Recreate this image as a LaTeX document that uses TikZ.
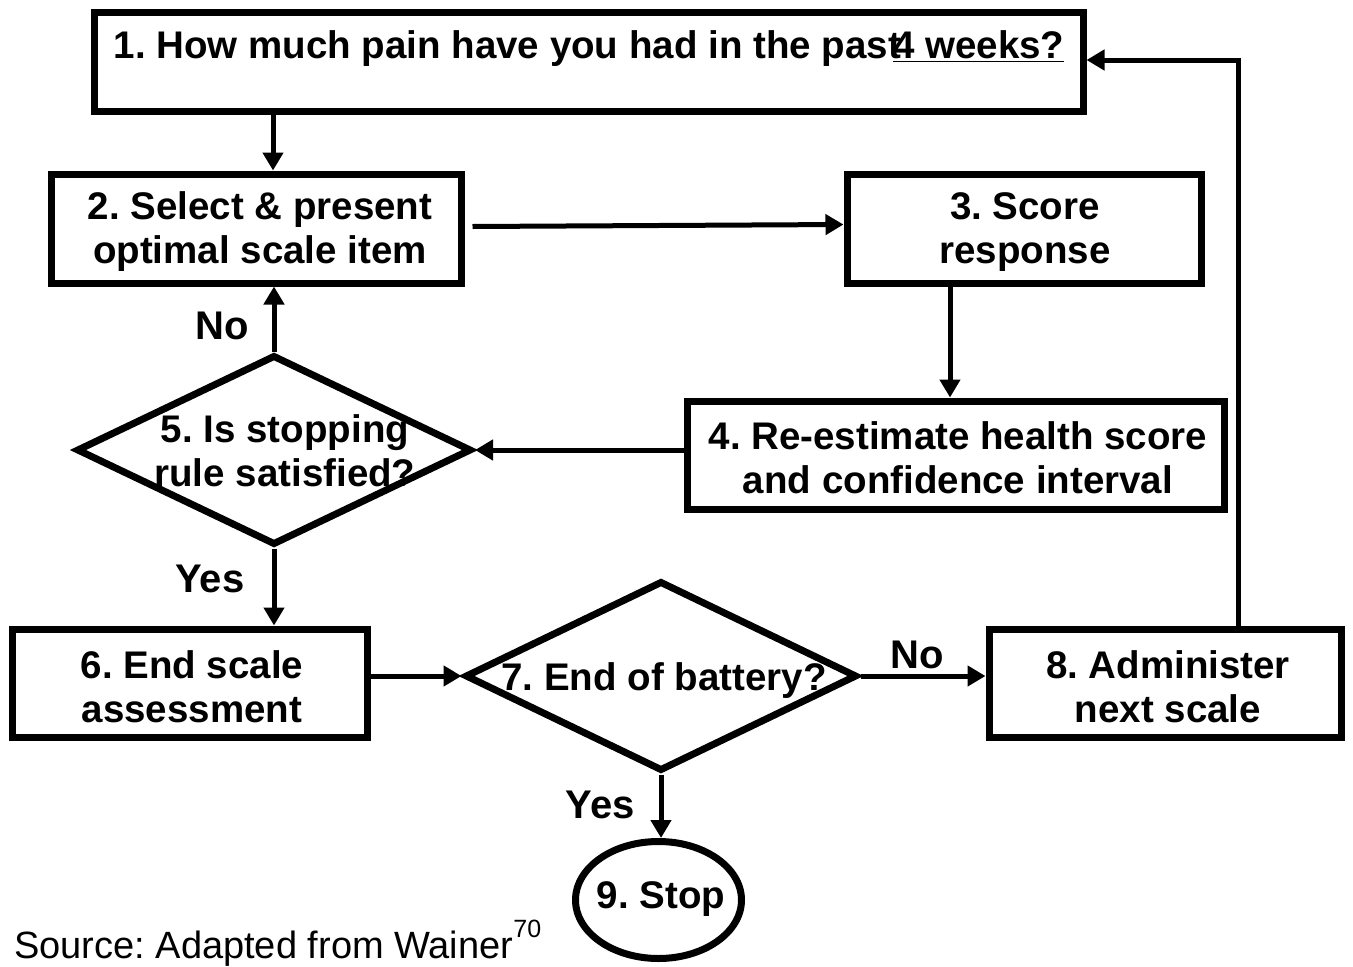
\documentclass[tikz,border=0pt]{standalone}
\usepackage{fontspec}
\setmainfont{Liberation Sans}
\usetikzlibrary{arrows.meta,shapes.geometric}
\frenchspacing
\begin{document}
\begin{tikzpicture}[x=1pt,y=-1pt,
  box/.style={draw,line width=7pt,rectangle,inner sep=0pt},
  dia/.style={draw,line width=7pt,diamond,inner sep=0pt,line join=miter},
  txt/.style={align=center,font=\fontsize{38.5}{44}\selectfont\bfseries,inner sep=0pt},
  lab/.style={font=\fontsize{40}{44}\selectfont\bfseries,inner sep=0pt},
  arr/.style={line width=5pt,-{Triangle[length=18pt,width=20pt]}}]
\useasboundingbox (0,0) rectangle (1353,967);
% shapes
\node[box,minimum width=989pt,minimum height=99pt] (b1) at (588.5,61.5) {};
\node[box,minimum width=410pt,minimum height=109pt] (b2) at (256,228.5) {};
\node[box,minimum width=354pt,minimum height=109pt] (b3) at (1024,228.5) {};
\node[box,minimum width=537pt,minimum height=108pt] (b4) at (955.5,455) {};
\node[dia,minimum width=395pt,minimum height=190pt] (d5) at (274,450) {};
\node[box,minimum width=355pt,minimum height=108pt] (b6) at (189.5,683) {};
\node[dia,minimum width=392pt,minimum height=190pt] (d7) at (661,676) {};
\node[box,minimum width=352pt,minimum height=108pt] (b8) at (1165,683) {};
\node[draw,line width=7pt,ellipse,minimum width=166pt,minimum height=117pt,inner sep=0pt] (e9) at (658.5,900) {};
% texts
\node[txt] (t1) at (589,49) {1. How much pain have you had in the past\kern-0.2em\underline{4 weeks?}};
\node[txt] (t2) at (260,232) {2. Select \& present\\optimal scale item};
\node[txt] (t3) at (1025,232) {3. Score\\response};
\node[txt] (t4) at (958,458) {4. Re-estimate health score\\and confidence interval};
\node[txt] (t5) at (285,451) {5. Is stopping\\rule satisfied?};
\node[txt] (t6) at (192,687) {6. End scale\\assessment};
\node[txt] (t7) at (664,681) {7. End of battery?};
\node[txt] (t8) at (1168,687) {8. Administer\\next scale};
\node[txt] (t9) at (661,899) {9. Stop};
% connectors
\coordinate (c81) at (1238,60);
\draw[arr] (b1.south -| 273,0) -- (b2.north -| 273,0);
\draw[arr] ([xshift=8pt,yshift=2pt]b2.east) -- ([yshift=4pt]b3.west);
\draw[arr] (b3.south -| 950,0) -- (b4.north -| 950,0);
\draw[arr] (b4.west |- d5.east) -- (d5.east);
\draw[arr] (d5.north) -- (b2.south -| d5.north);
\draw[arr] (d5.south) -- (b6.north -| d5.south);
\draw[arr] (b6.east |- d7.west) -- (d7.west);
\draw[arr] (d7.east) -- (d7.east -| b8.west);
\draw[arr] (d7.south) -- (d7.south |- e9.north);
\draw[arr] (b8.north -| c81) -- (c81) -- (c81 -| b1.east);
% labels
\node[lab] (no1) at (222,326) {No};
\node[lab] (yes1) at (210,579) {Yes};
\node[lab] (no2) at (917,655) {No};
\node[lab] (yes2) at (600,805) {Yes};
\node[inner sep=0pt,anchor=base west,font=\fontsize{38}{40}\selectfont] (src) at (14,958) {Source: Adapted from Wainer\raisebox{0.55em}{\fontsize{25}{26}\selectfont 70}};
\end{tikzpicture}
\end{document}
